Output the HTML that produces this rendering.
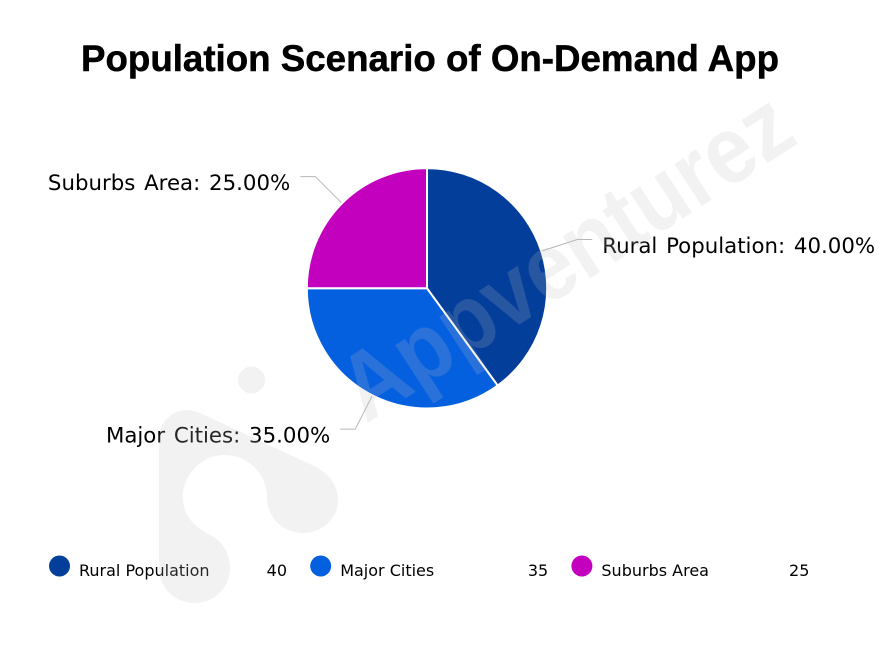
<!DOCTYPE html>
<html lang="en">
<head>
<meta charset="utf-8">
<title>Population Scenario of On-Demand App</title>
<style>
html,body{margin:0;padding:0;background:#fff;width:884px;height:651px;overflow:hidden}
svg{display:block}
.dj{font-family:"DejaVu Sans",sans-serif;fill:#000}
</style>
</head>
<body>
<svg id="chart" width="884" height="651" viewBox="0 0 884 651" xmlns="http://www.w3.org/2000/svg">
  <rect width="884" height="651" fill="#fff"/>
  <text x="81" y="71" font-family="'Liberation Sans',sans-serif" font-weight="700" font-size="37" fill="#000" stroke="#000" stroke-width="0.5" textLength="698" lengthAdjust="spacingAndGlyphs">Population Scenario of On-Demand App</text>
  <g id="leaders"></g>
  <g id="slices"></g>
  <g id="labels"></g>
  <g id="legend"></g>
  <g style="pointer-events:none">
    <circle cx="251.500" cy="380" r="13.500" fill="rgb(190,190,190)" fill-opacity="0.2"/>
    <path fill="rgb(190,190,190)" fill-opacity="0.2" d="M159 440C159 417 180 404 200 413L312 465C328 472 338 485 338 500C338 519 322 533 303 533C283 533 267 518 267 497C267 474 248 455 225 455C202 455 183 474 183 497C183 513 192 525 205 532L212 536C223 542 230 554 230 568C230 588 214 603 195 603C175 603 159 588 159 568Z"/>
    <text transform="translate(366 424) rotate(-33)" font-family="'Liberation Sans',sans-serif" font-weight="700" font-size="95" fill="rgb(190,190,190)" fill-opacity="0.2" textLength="518" lengthAdjust="spacingAndGlyphs">Appventurez</text>
  </g>
</svg>
<script>
const categories = ["Rural Population", "Major Cities", "Suburbs Area"];
const seriesValues = [40, 35, 25];
const sliceColors = ["#033e9b", "#0560e0", "#c400bf"];

const NS = "http://www.w3.org/2000/svg";
const cx = 427, cy = 288.3, radius = 120.2, elbowRadius = 158, tailLength = 15, labelGap = 10;
const total = seriesValues.reduce(function (a, b) { return a + b; }, 0);

function angleOf(value) { return value / total * Math.PI * 2; }
function pointAt(angle, r) { return [cx + r * Math.sin(angle), cy - r * Math.cos(angle)]; }
function slug(name) { return name.toLowerCase().replace(/\s+/g, "-"); }

const slicesGroup = document.getElementById("slices");
const leadersGroup = document.getElementById("leaders");
const labelsGroup = document.getElementById("labels");
const legendGroup = document.getElementById("legend");

let start = 0;
seriesValues.forEach(function (value, i) {
  const sweep = angleOf(value);
  const end = start + sweep;
  const mid = start + sweep / 2;
  const a = pointAt(start, radius);
  const b = pointAt(end, radius);

  const slice = document.createElementNS(NS, "path");
  slice.setAttribute("d", "M" + cx + " " + cy + "L" + a[0] + " " + a[1] + "A" + radius + " " + radius + " 0 " + (sweep > Math.PI ? 1 : 0) + " 1 " + b[0] + " " + b[1] + "Z");
  slice.setAttribute("fill", sliceColors[i]);
  slice.setAttribute("stroke", "#fff");
  slice.setAttribute("stroke-width", "2");
  slice.setAttribute("stroke-linejoin", "round");
  
  
  slicesGroup.appendChild(slice);

  const p0 = pointAt(mid, radius);
  const p1 = pointAt(mid, elbowRadius);
  const right = Math.sin(mid) >= 0;
  const p2 = [p1[0] + (right ? tailLength : -tailLength), p1[1]];
  const leader = document.createElementNS(NS, "polyline");
  leader.setAttribute("points", p0.join(",") + " " + p1.join(",") + " " + p2.join(","));
  leader.setAttribute("fill", "none");
  leader.setAttribute("stroke", "#b8b8b8");
  leader.setAttribute("stroke-width", "1");
  
  
  leadersGroup.appendChild(leader);

  const label = document.createElementNS(NS, "text");
  label.setAttribute("class", "dj");
  label.setAttribute("font-size", "21.3");
  label.setAttribute("word-spacing", "2");
  label.setAttribute("x", p2[0] + (right ? labelGap : -labelGap));
  label.setAttribute("y", p2[1] + 13.5);
  label.setAttribute("text-anchor", right ? "start" : "end");
  label.textContent = categories[i] + ": " + (value / total * 100).toFixed(2) + "%";
  
  
  labelsGroup.appendChild(label);

  const offset = i * 261.2;
  const dot = document.createElementNS(NS, "circle");
  dot.setAttribute("cx", 59.5 + offset);
  dot.setAttribute("cy", 566);
  dot.setAttribute("r", 10.5);
  dot.setAttribute("fill", sliceColors[i]);
  
  
  legendGroup.appendChild(dot);

  const name = document.createElementNS(NS, "text");
  name.setAttribute("class", "dj");
  name.setAttribute("font-size", "16");
  name.setAttribute("x", 79 + offset);
  name.setAttribute("y", 576);
  name.textContent = categories[i];
  
  
  legendGroup.appendChild(name);

  const val = document.createElementNS(NS, "text");
  val.setAttribute("class", "dj");
  val.setAttribute("font-size", "16");
  val.setAttribute("x", 287 + offset);
  val.setAttribute("y", 576);
  val.setAttribute("text-anchor", "end");
  val.textContent = String(value);
  
  
  legendGroup.appendChild(val);

  start = end;
});
</script>
</body>
</html>
